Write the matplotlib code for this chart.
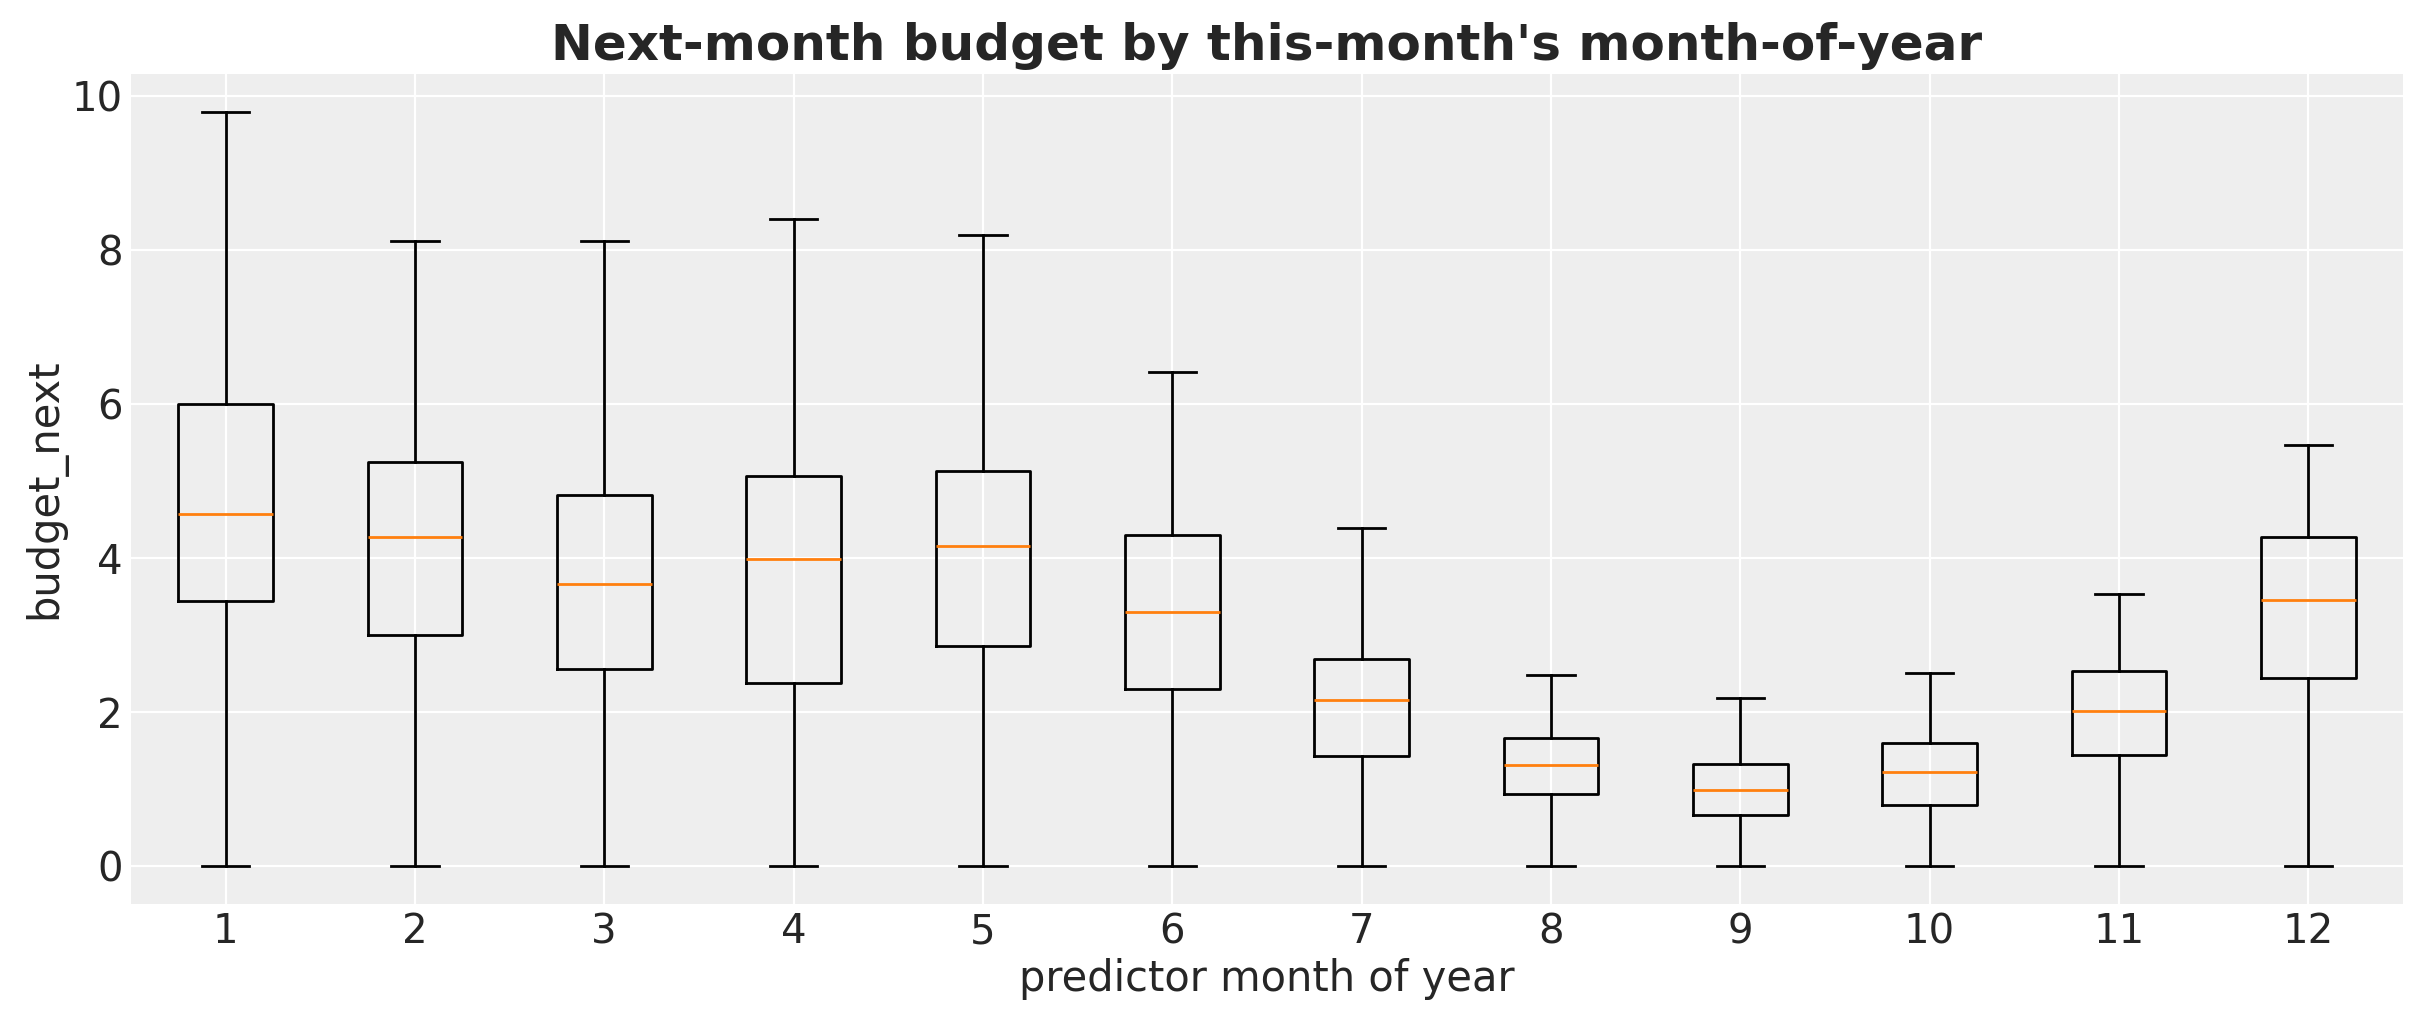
import matplotlib
matplotlib.use("Agg")
import matplotlib.pyplot as plt

# box stats (whiskers span min..max)
months = [1, 2, 3, 4, 5, 6, 7, 8, 9, 10, 11, 12]
whis_low = [0, 0, 0, 0, 0, 0, 0, 0, 0, 0, 0, 0]
q1 = [3.45, 3.01, 2.56, 2.38, 2.86, 2.30, 1.43, 0.94, 0.66, 0.79, 1.45, 2.44]
medians = [4.58, 4.28, 3.67, 3.99, 4.16, 3.30, 2.16, 1.31, 0.99, 1.23, 2.02, 3.46]
q3 = [6.00, 5.25, 4.82, 5.07, 5.14, 4.30, 2.69, 1.66, 1.33, 1.60, 2.53, 4.28]
whis_high = [9.80, 8.12, 8.12, 8.41, 8.20, 6.42, 4.39, 2.48, 2.19, 2.51, 3.53, 5.47]

text_color = "#262626"
plt.rcParams.update({
    "font.family": "DejaVu Sans",
    "text.color": text_color,
    "axes.labelcolor": text_color,
    "xtick.color": text_color,
    "ytick.color": text_color,
})

stats = []
for m, lo, a, med, b, hi in zip(months, whis_low, q1, medians, q3, whis_high):
    stats.append({"label": str(m), "whislo": lo, "q1": a, "med": med,
                  "q3": b, "whishi": hi, "fliers": []})

fig = plt.figure(figsize=(2423 / 200, 1023 / 200), dpi=200)
ax = fig.add_axes([0.054, 0.1163, 0.9377, 0.8114])
ax.set_facecolor("#eeeeee")
ax.grid(True, color="white", linewidth=0.8)
ax.set_axisbelow(True)
for s in ax.spines.values():
    s.set_visible(False)

ax.bxp(stats, positions=months, widths=0.5,
       medianprops={"color": "#ff7f0e", "linewidth": 1.0})

ax.set_title("Next-month budget by this-month's month-of-year",
             fontsize=18, fontweight="bold", pad=5)
ax.set_xlabel("predictor month of year", fontsize=15, labelpad=2)
ax.set_ylabel("budget_next", fontsize=15, labelpad=2)
ax.tick_params(axis="both", length=0, labelsize=14.5, pad=3)
ax.set_yticks([0, 2, 4, 6, 8, 10])

fig.savefig("out.png", dpi=200)
